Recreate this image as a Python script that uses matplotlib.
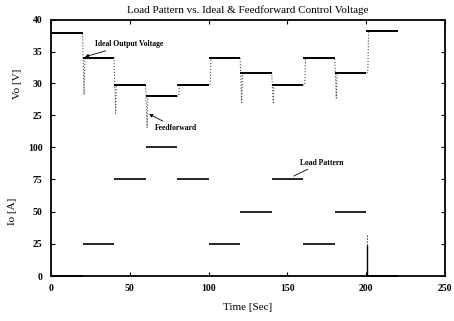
import matplotlib
matplotlib.use("Agg")
import matplotlib.pyplot as plt

plt.rcParams['font.family'] = ['Liberation Serif', 'DejaVu Serif']

# step times [Sec] and levels
t_edges = [0, 20, 40, 60, 80, 100, 120, 140, 160, 180, 200, 220]
vo_ideal = [38.0, 34.0, 29.8, 28.0, 29.8, 34.0, 31.7, 29.8, 34.0, 31.7, 38.3]
io_load = [0, 25, 75, 100, 75, 25, 50, 75, 25, 50, 0]
# lowest feedforward voltage seen at each step change (t = 20 ... 200)
ff_dip = [28.2, 25.3, 23.0, 28.0, 29.8, 27.0, 27.0, 29.8, 27.7, 31.7]
io_spike = 32  # current spike at t=200

# feedforward trace: follows the ideal levels with a dip at every step
ff_t = [t_edges[0]]
ff_v = [vo_ideal[0]]
for k in range(len(ff_dip)):
    t = t_edges[k + 1]
    ff_t += [t, t + 1, t + 1.5]
    ff_v += [vo_ideal[k], ff_dip[k], vo_ideal[k + 1]]
ff_t.append(t_edges[-1])
ff_v.append(vo_ideal[-1])

fig = plt.figure(figsize=(4.54, 3.21), dpi=100)
ax1 = fig.add_axes([0.1123, 0.542, 0.868, 0.396])
ax2 = fig.add_axes([0.1123, 0.140, 0.868, 0.402], sharex=ax1)

# top panel: voltage
ax1.plot(ff_t, ff_v, ':', color='0.3', lw=0.8)
ax1.hlines(vo_ideal, t_edges[:-1], t_edges[1:], color='black', lw=1.4)
ax1.set_ylim(20, 40)
ax1.set_yticks([25, 30, 35, 40])
ax1.set_ylabel('Vo [V]', fontsize=8, labelpad=8)
ax1.set_title('Load Pattern vs. Ideal & Feedforward Control Voltage', fontsize=8, pad=5)
ax1.annotate('Ideal Output Voltage', xy=(21.6, 34.2), xytext=(28, 36.2),
             fontsize=5.5, fontweight='bold', va='center',
             arrowprops=dict(arrowstyle='-|>', lw=0.6, color='black', mutation_scale=5, shrinkA=0, shrinkB=0))
ax1.annotate('Feedforward', xy=(62.2, 25.2), xytext=(66, 23.0),
             fontsize=5.5, fontweight='bold', va='center',
             arrowprops=dict(arrowstyle='-|>', lw=0.6, color='black', mutation_scale=5, shrinkA=0, shrinkB=0))

# bottom panel: load current
ax2.hlines(io_load, t_edges[:-1], t_edges[1:], color='black', lw=1.2, clip_on=False)
ax2.vlines(200.5, 0, 24, color='black', lw=1.0)
ax2.vlines(200.5, 24, io_spike, color='black', lw=0.8, linestyles=':')
ax2.set_ylim(0, 100)
ax2.set_yticks([0, 25, 50, 75, 100])
ax2.set_ylabel('Io [A]', fontsize=8, labelpad=8)
ax2.set_xlabel('Time [Sec]', fontsize=8, labelpad=7)
ax2.annotate('Load Pattern', xy=(154, 77.5), xytext=(158, 88),
             fontsize=5.5, fontweight='bold', va='center',
             arrowprops=dict(arrowstyle='-', lw=0.6, color='black', shrinkA=0, shrinkB=0))

ax2.set_xlim(0, 250)
ax2.set_xticks([0, 50, 100, 150, 200, 250])
plt.setp(ax1.get_xticklabels(), visible=False)

for ax in (ax1, ax2):
    ax.tick_params(direction='in', length=3, width=0.8, labelsize=7,
                   top=True, right=True, pad=6)
    for lab in ax.get_xticklabels() + ax.get_yticklabels():
        lab.set_fontweight('bold')
    for s in ax.spines.values():
        s.set_linewidth(1.3)
ax1.spines['bottom'].set_visible(False)
ax2.spines['top'].set_visible(False)
ax1.tick_params(bottom=False)
ax2.tick_params(top=False)

fig.savefig('out.png', dpi=100)
